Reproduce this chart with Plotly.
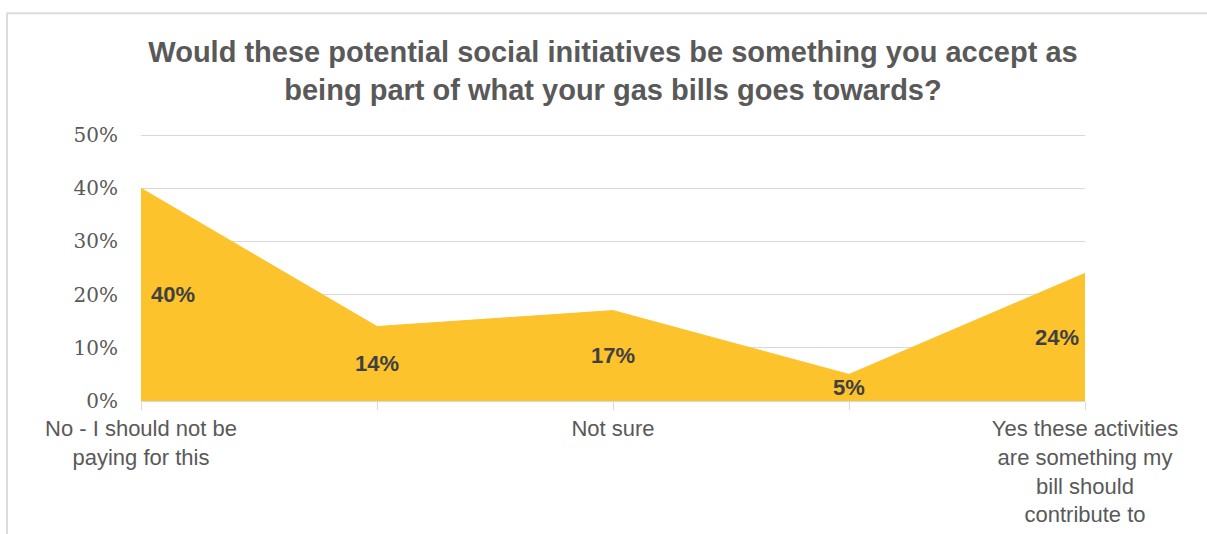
import plotly.graph_objects as go

# Survey responses (share of respondents)
categories = [0, 1, 2, 3, 4]
tick_labels = [
    "No - I should not be<br>paying for this",
    "",
    "Not sure",
    "",
    "Yes these activities<br>are something my<br>bill should<br>contribute to",
]
values = [0.40, 0.14, 0.17, 0.05, 0.24]
y_ticks = [0, 0.1, 0.2, 0.3, 0.4, 0.5]

AREA = "#FCC32D"
GREY_TEXT = "#595959"
GRID = "#D9D9D9"

W, H = 1207, 534
Y_TOP = 0.504  # a hair above 50% so the top gridline is drawn
x0_px, x1_px = 141, 1085   # first / last category
y0_px, y50_px = 401, 135   # 0% / 50% baselines
plot_h = (y0_px - y50_px) * Y_TOP / 0.5
L, R = x0_px, W - x1_px
B = H - y0_px
T = H - B - plot_h
plot_w = x1_px - x0_px

fig = go.Figure()
fig.add_trace(go.Scatter(
    x=categories, y=values, mode="lines", fill="tozeroy",
    fillcolor=AREA, line=dict(color=AREA, width=1),
    hoverinfo="skip", showlegend=False,
))

# Value labels sit halfway up the area at each category
n = len(values)
for i, (c, v) in enumerate(zip(categories, values)):
    if i == 0:
        anchor, shift = "left", 8
    elif i == n - 1:
        anchor, shift = "right", -4
    else:
        anchor, shift = "center", 0
    fig.add_annotation(
        x=c, y=v / 2, text=f"<b>{v:.0%}</b>", showarrow=False,
        xanchor=anchor, yanchor="middle", xshift=shift,
        font=dict(family="Liberation Sans, Arial", size=22, color="#404040"),
    )

# Chart frame
px_to_x = lambda p: (p - L) / plot_w
py_to_y = lambda p: (H - B - p) / plot_h
fig.add_shape(
    type="path", xref="paper", yref="paper",
    path=(f"M {px_to_x(7)} {py_to_y(H + 10)} L {px_to_x(7)} {py_to_y(13)} "
          f"L {px_to_x(W + 10)} {py_to_y(13)}"),
    line=dict(color="#DCDCDC", width=2),
)

fig.update_layout(
    width=W, height=H,
    margin=dict(l=L, r=R, t=T, b=B, autoexpand=False),
    paper_bgcolor="white", plot_bgcolor="white",
    title=dict(
        text="<b>Would these potential social initiatives be something you accept as<br>"
             "being part of what your gas bills goes towards?</b>",
        x=(L + plot_w / 2) / W, xanchor="center",
        y=1 - 62 / H, yanchor="middle",
        font=dict(family="Liberation Sans, Arial", size=29, color=GREY_TEXT),
    ),
    font=dict(family="Liberation Sans, Arial", color=GREY_TEXT),
)

fig.update_xaxes(
    range=[0, 4], tickmode="array", tickvals=categories, ticktext=tick_labels,
    showgrid=False, zeroline=False, showline=True, linecolor=GRID, linewidth=1,
    ticks="outside", ticklen=8, tickcolor=GRID, automargin=False,
    tickfont=dict(family="Liberation Sans, Arial", size=22, color=GREY_TEXT),
    tickangle=0,
)
fig.update_yaxes(
    range=[0, Y_TOP], tickmode="array", tickvals=y_ticks,
    tickformat=".0%", showgrid=True, gridcolor=GRID, gridwidth=1,
    zeroline=False, showline=False, ticks="", ticklabelstandoff=22,
    automargin=False,
    tickfont=dict(family="DejaVu Serif, Cambria, serif", size=20, color=GREY_TEXT),
)

fig.write_html("out.html")
